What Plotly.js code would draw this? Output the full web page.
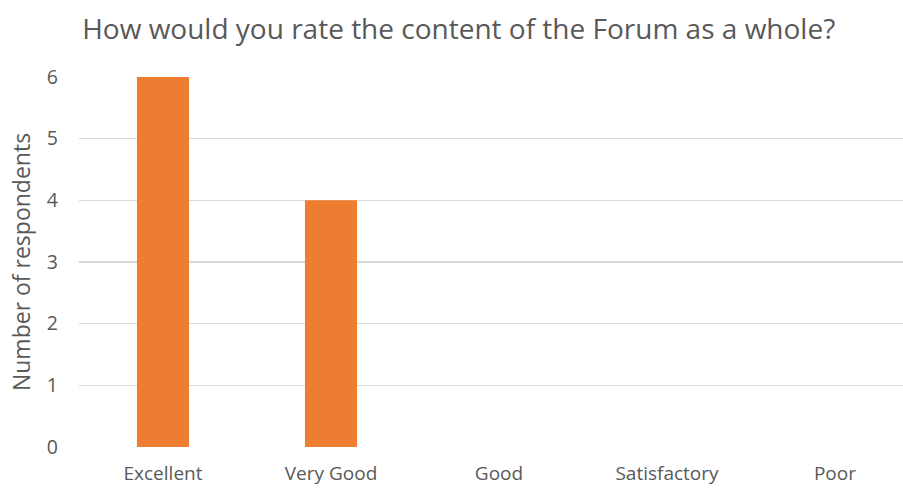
<!DOCTYPE html>
<html><head><meta charset="utf-8">
<script src="https://cdn.plot.ly/plotly-3.0.1.min.js"></script>
<style>html,body{margin:0;padding:0;background:#fff}#chart{width:903px;height:489px}</style>
</head><body><div id="chart"></div>
<script>
const categories = ["Excellent", "Very Good", "Good", "Satisfactory", "Poor"];
const respondents = [6, 4, 0, 0, 0];
const yTicks = [0, 1, 2, 3, 4, 5, 6];

const font = "Open Sans, Liberation Sans, sans-serif";
Plotly.newPlot("chart", [{
  type: "bar",
  x: categories,
  y: respondents,
  width: 0.31,
  marker: {color: "#ED7D31"},
  hoverinfo: "x+y"
}], {
  width: 903, height: 489,
  margin: {l: 79, r: 0, t: 77, b: 42},
  paper_bgcolor: "#fff", plot_bgcolor: "#fff",
  title: {text: "How would you rate the content of the Forum as a whole?", font: {family: font, size: 28, color: "#595959"}, x: 0.508, xanchor: "center", y: 0.94, yanchor: "middle"},
  xaxis: {range: [-0.5, 4.405], showgrid: false, zeroline: false, showline: false, ticks: "", ticklabelstandoff: 13, tickfont: {family: font, size: 19, color: "#595959"}, fixedrange: true},
  yaxis: {range: [0, 6], tickvals: yTicks, showgrid: true, gridcolor: "#D9D9D9", gridwidth: 1.5, zeroline: false, showline: false, ticks: "", ticklabelstandoff: 20, tickfont: {family: font, size: 19.5, color: "#595959"},
    title: {text: "Number of respondents", font: {family: font, size: 23, color: "#595959"}, standoff: 9}, fixedrange: true},
  showlegend: false
}, {displayModeBar: false, staticPlot: true});
</script></body></html>
